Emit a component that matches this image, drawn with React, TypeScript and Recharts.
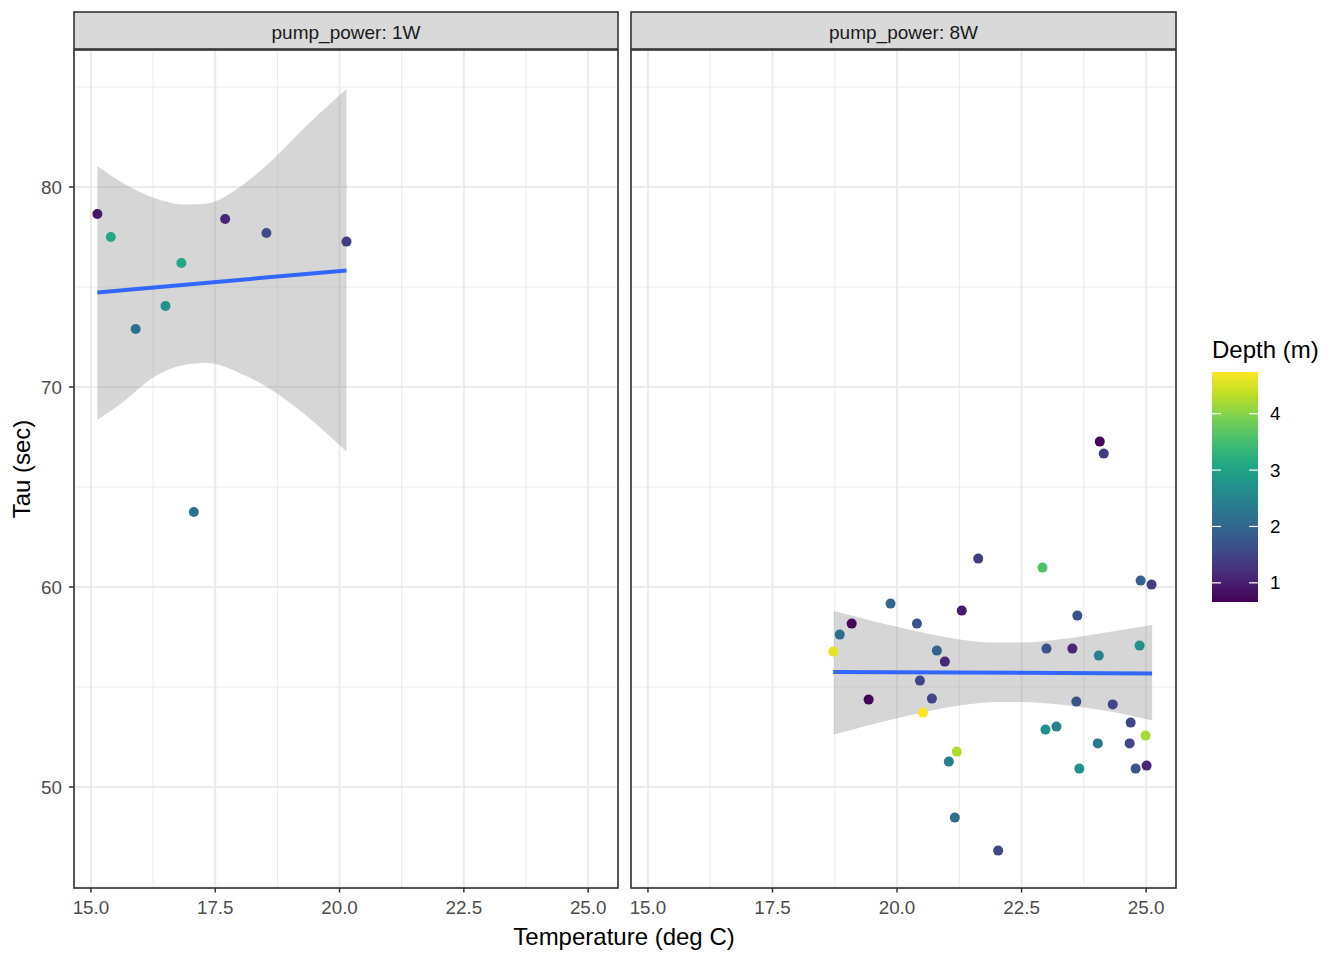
import React from 'react';
import { ComposedChart, XAxis, YAxis, CartesianGrid, Area, Line, Scatter } from 'recharts';

// ---------- data ----------
const FACETS = ['pump_power: 1W', 'pump_power: 8W'];

const TEMP_1W = [15.13, 15.40, 16.82, 17.70, 18.53, 20.14, 16.50, 15.90, 17.07];
const TAU_1W = [78.65, 77.5, 76.2, 78.4, 77.7, 77.27, 74.05, 72.9, 63.75];
const DEPTH_1W = [0.9, 3.1, 3.1, 1.1, 1.6, 1.4, 2.7, 2.15, 2.2];

const TEMP_8W = [24.07, 24.15, 21.63, 22.92, 24.89, 25.11, 19.87, 21.30, 19.09, 20.40, 23.62, 18.85, 18.72,
  20.80, 20.96, 23.00, 23.52, 24.05, 24.87, 20.46, 19.43, 20.70, 23.60, 24.33, 20.52, 24.69, 22.98, 23.20,
  24.99, 24.03, 24.67, 21.20, 21.04, 23.66, 24.79, 25.01, 21.16, 22.03];
const TAU_8W = [67.27, 66.67, 61.42, 60.97, 60.32, 60.12, 59.17, 58.82, 58.17, 58.17, 58.57, 57.62, 56.77,
  56.82, 56.27, 56.92, 56.92, 56.57, 57.07, 55.32, 54.37, 54.42, 54.27, 54.13, 53.72, 53.22, 52.87, 53.02,
  52.57, 52.18, 52.18, 51.77, 51.27, 50.92, 50.92, 51.07, 48.47, 46.82];
const DEPTH_8W = [0.7, 1.4, 1.4, 3.6, 1.95, 1.4, 2.0, 0.95, 0.7, 1.7, 1.7, 2.15, 4.6,
  1.95, 1.1, 1.7, 1.1, 2.4, 2.7, 1.5, 0.7, 1.5, 1.7, 1.5, 4.74, 1.55, 2.7, 2.45,
  4.2, 2.3, 1.5, 4.25, 2.4, 2.7, 1.7, 1.1, 2.15, 1.5];

// linear fit (geom_smooth, method = lm)
const FIT_T_1W = [15.13, 20.14];
const FIT_TAU_1W = [74.73, 75.83];
const FIT_T_8W = [18.72, 25.12];
const FIT_TAU_8W = [55.75, 55.68];

// confidence band
const BAND_T_1W = [15.13, 15.66, 16.25, 16.87, 17.34, 18.01, 18.68, 19.35, 20.14];
const BAND_HI_1W = [81.05, 80.18, 79.48, 79.13, 79.18, 80.02, 81.43, 83.1, 84.9];
const BAND_LO_1W = [68.35, 69.27, 70.47, 71.1, 71.2, 70.68, 69.77, 68.52, 66.77];
const BAND_T_8W = [18.73, 19.98, 21.26, 22.01, 22.5, 23.15, 23.76, 24.50, 25.12];
const BAND_HI_8W = [58.8, 58.02, 57.38, 57.22, 57.22, 57.35, 57.55, 57.85, 58.1];
const BAND_LO_8W = [52.62, 53.43, 54.07, 54.25, 54.25, 54.15, 53.98, 53.68, 53.32];

// axes
const X_TICKS = [15, 17.5, 20, 22.5, 25];
const X_MINOR = [16.25, 18.75, 21.25, 23.75];
const Y_TICKS = [50, 60, 70, 80];
const Y_MINOR = [45, 55, 65, 75, 85];
const X_DOMAIN: [number, number] = [14.66, 25.6];
const Y_DOMAIN: [number, number] = [44.95, 86.85];

// colour scale
const DEPTH_DOMAIN: [number, number] = [0.66, 4.74];
const DEPTH_TICKS = [1, 2, 3, 4];
const VIRIDIS = ['#440154', '#482475', '#414487', '#355f8d', '#2a788e', '#21918c', '#22a884', '#44bf70', '#7ad151', '#bddf26', '#fde725'];

const FONT = '"Liberation Sans", Arial, Helvetica, sans-serif';
const TICK_FS = 18.8;
const TITLE_FS = 24;

function hexToRgb(h: string) {
  return [parseInt(h.slice(1, 3), 16), parseInt(h.slice(3, 5), 16), parseInt(h.slice(5, 7), 16)];
}
function viridis(d: number) {
  let f = (d - DEPTH_DOMAIN[0]) / (DEPTH_DOMAIN[1] - DEPTH_DOMAIN[0]);
  f = Math.max(0, Math.min(1, f));
  const p = f * (VIRIDIS.length - 1);
  const i = Math.min(Math.floor(p), VIRIDIS.length - 2);
  const r = p - i;
  const a = hexToRgb(VIRIDIS[i]);
  const b = hexToRgb(VIRIDIS[i + 1]);
  const c = a.map((v, k) => Math.round(v + (b[k] - v) * r));
  return `rgb(${c[0]},${c[1]},${c[2]})`;
}

const mkPts = (t: number[], y: number[], d: number[]) => t.map((v, i) => ({ t: v, y: y[i], d: d[i] }));
const mkFit = (t: number[], y: number[]) => t.map((v, i) => ({ t: v, y: y[i] }));
const mkBand = (t: number[], lo: number[], hi: number[]) => t.map((v, i) => ({ t: v, range: [lo[i], hi[i]] }));

const PANELS = [
  {
    pts: mkPts(TEMP_1W, TAU_1W, DEPTH_1W),
    fit: mkFit(FIT_T_1W, FIT_TAU_1W),
    band: mkBand(BAND_T_1W, BAND_LO_1W, BAND_HI_1W),
  },
  {
    pts: mkPts(TEMP_8W, TAU_8W, DEPTH_8W),
    fit: mkFit(FIT_T_8W, FIT_TAU_8W),
    band: mkBand(BAND_T_8W, BAND_LO_8W, BAND_HI_8W),
  },
];

// layout (pixels)
const PLOT_TOP = 50;
const PLOT_BOTTOM = 888;
const PANEL_X = [
  { left: 74, right: 618 },
  { left: 631, right: 1176 },
];

const PointShape = (props: any) => {
  const { cx, cy, payload } = props;
  if (cx == null || cy == null) return null;
  return <circle cx={cx} cy={cy} r={5} fill={viridis(payload.d)} />;
};

function Panel({ idx }: { idx: number }) {
  const p = PANELS[idx];
  const showY = idx === 0;
  const chartLeft = idx === 0 ? 0 : 620;
  const chartWidth = idx === 0 ? 620 : 560;
  const yW = 60;
  const margin = {
    top: PLOT_TOP,
    bottom: 960 - PLOT_BOTTOM - 40,
    left: PANEL_X[idx].left - chartLeft - (showY ? yW : 0),
    right: chartLeft + chartWidth - PANEL_X[idx].right,
  };
  return (
    <div style={{ position: 'absolute', left: chartLeft, top: 0 }}>
      <ComposedChart width={chartWidth} height={960} margin={margin}>
        <CartesianGrid xAxisId="minor" yAxisId="minor" stroke="#ebebeb" strokeWidth={1} />
        <CartesianGrid stroke="#ebebeb" strokeWidth={2} />
        <XAxis
          dataKey="t"
          type="number"
          domain={X_DOMAIN}
          ticks={X_TICKS}
          interval={0}
          allowDataOverflow
          tickFormatter={(v: number) => v.toFixed(1)}
          tick={{ fill: '#4d4d4d', fontSize: TICK_FS, fontFamily: FONT }}
          tickLine={{ stroke: '#333333', strokeWidth: 1.5 }}
          tickSize={4.5}
          tickMargin={8}
          axisLine={false}
          height={40}
        />
        <XAxis xAxisId="minor" dataKey="t" type="number" domain={X_DOMAIN} ticks={X_MINOR} interval={0} allowDataOverflow hide />
        <YAxis
          type="number"
          domain={Y_DOMAIN}
          ticks={Y_TICKS}
          interval={0}
          allowDataOverflow
          hide={!showY}
          width={yW}
          tick={{ fill: '#4d4d4d', fontSize: TICK_FS, fontFamily: FONT }}
          tickLine={{ stroke: '#333333', strokeWidth: 1.5 }}
          tickSize={5}
          tickMargin={7}
          axisLine={false}
        />
        <YAxis yAxisId="minor" type="number" domain={Y_DOMAIN} ticks={Y_MINOR} interval={0} allowDataOverflow hide />
        <Area
          data={p.band}
          dataKey="range"
          type="monotone"
          stroke="none"
          fill="#999999"
          fillOpacity={0.4}
          isAnimationActive={false}
        />
        <Line
          data={p.fit}
          dataKey="y"
          type="linear"
          stroke="#3366FF"
          strokeWidth={4}
          dot={false}
          activeDot={false}
          isAnimationActive={false}
        />
        <Scatter data={p.pts} dataKey="y" shape={PointShape} isAnimationActive={false} />
      </ComposedChart>
    </div>
  );
}

function Overlay() {
  const barX = 1212;
  const barW = 46;
  const barTop = 372;
  const barBottom = 602;
  const dy = (v: number) => barBottom - ((v - DEPTH_DOMAIN[0]) / (DEPTH_DOMAIN[1] - DEPTH_DOMAIN[0])) * (barBottom - barTop);
  return (
    <svg width={1344} height={960} style={{ position: 'absolute', left: 0, top: 0, pointerEvents: 'none' }}>
      <defs>
        <linearGradient id="viridisGrad" x1="0" y1="1" x2="0" y2="0">
          {VIRIDIS.map((c, i) => (
            <stop key={i} offset={`${(i / (VIRIDIS.length - 1)) * 100}%`} stopColor={c} />
          ))}
        </linearGradient>
      </defs>
      {PANEL_X.map((px, i) => (
        <g key={i}>
          <rect x={px.left} y={PLOT_TOP} width={px.right - px.left} height={PLOT_BOTTOM - PLOT_TOP} fill="none" stroke="#333333" strokeWidth={1.6} />
          <rect x={px.left} y={12} width={px.right - px.left} height={37} fill="#d9d9d9" stroke="#333333" strokeWidth={1.6} />
          <text x={(px.left + px.right) / 2} y={32} textAnchor="middle" dominantBaseline="central" fontSize={19} fill="#1a1a1a" fontFamily={FONT}>
            {FACETS[i]}
          </text>
        </g>
      ))}
      <text x={624} y={945} textAnchor="middle" fontSize={TITLE_FS} fill="#000" fontFamily={FONT}>
        Temperature (deg C)
      </text>
      <text transform="translate(30,469) rotate(-90)" textAnchor="middle" fontSize={TITLE_FS} fill="#000" fontFamily={FONT}>
        Tau (sec)
      </text>
      <text x={1212} y={358} fontSize={TITLE_FS} fill="#000" fontFamily={FONT}>
        Depth (m)
      </text>
      <rect x={barX} y={barTop} width={barW} height={barBottom - barTop} fill="url(#viridisGrad)" />
      {DEPTH_TICKS.map((v) => (
        <g key={v}>
          <line x1={barX} x2={barX + 9} y1={dy(v)} y2={dy(v)} stroke="#ffffff" strokeWidth={1.2} />
          <line x1={barX + barW - 9} x2={barX + barW} y1={dy(v)} y2={dy(v)} stroke="#ffffff" strokeWidth={1.2} />
          <text x={1270} y={dy(v)} dominantBaseline="central" fontSize={TICK_FS} fill="#000" fontFamily={FONT}>
            {v}
          </text>
        </g>
      ))}
    </svg>
  );
}

export default function App() {
  return (
    <div style={{ position: 'absolute', left: 0, top: 0, width: 1344, height: 960, background: '#ffffff', fontFamily: FONT }}>
      <Panel idx={0} />
      <Panel idx={1} />
      <Overlay />
    </div>
  );
}
